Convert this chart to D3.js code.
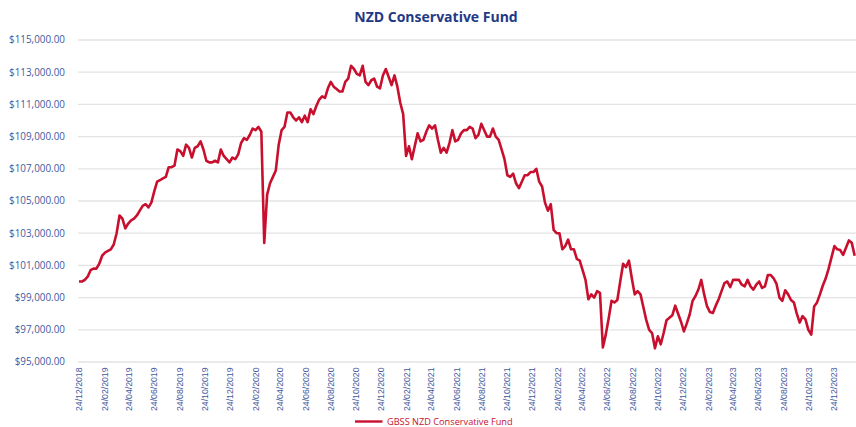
<!DOCTYPE html>
<html>
<head>
<meta charset="utf-8">
<script src="https://cdn.jsdelivr.net/npm/d3@7"></script>
<style>
  html, body { margin: 0; padding: 0; background: #fff; }
  svg { display: block; }
</style>
</head>
<body>
<svg id="chart" width="856" height="427"></svg>
<script>
// ---- data ----
const chartTitle = "NZD Conservative Fund";
const seriesName = "GBSS NZD Conservative Fund";
const startDate = "2018-12-24";      // first weekly observation
const stepDays = 7;                  // weekly unit prices
// weekly fund values (NZD)
const values = [
  100000,100000,100100,100300,100700,100800,100800,101100,101600,101800,
  101900,102000,102300,103000,104100,103900,103300,103600,103800,103900,
  104100,104400,104700,104800,104600,104900,105600,106200,106300,106400,
  106500,107100,107100,107200,108200,108100,107800,108500,108300,107700,
  108300,108400,108700,108200,107500,107400,107400,107500,107400,108200,
  107800,107600,107400,107700,107600,107900,108600,108900,108800,109100,
  109500,109400,109600,109300,102400,105400,106100,106500,106900,108500,
  109400,109600,110500,110500,110200,110000,110200,109900,110300,109900,
  110700,110400,110900,111300,111500,111400,112000,112400,112100,111950,
  111800,111800,112400,112600,113400,113200,112900,112800,113400,112400,
  112200,112500,112600,112100,112000,112800,113200,112700,112200,112800,
  112100,111100,110400,107800,108400,107600,108400,109200,108700,108800,
  109300,109700,109500,109700,108800,108000,108300,108000,108600,109400,
  108700,108800,109200,109400,109400,109600,109500,108900,109100,109800,
  109400,109000,109000,109500,109000,108800,108200,107600,106600,106500,
  106700,106100,105800,106200,106600,106600,106800,106800,107000,106200,
  105900,104900,104400,104800,103200,103000,103000,102000,102200,102600,
  102000,102000,101400,101300,100700,100100,98900,99200,99000,99400,
  99300,95900,96700,97700,98800,98700,98850,100000,101100,100900,
  101300,100200,99200,99400,99200,98400,97600,97000,96800,95850,
  96600,96100,96800,97600,97750,97900,98500,98000,97500,96900,
  97400,97950,98800,99100,99500,100100,99200,98450,98100,98050,
  98500,98900,99400,99900,100000,99650,100100,100100,100100,99800,
  99700,100100,99700,99500,99800,100000,99600,99700,100400,100400,
  100200,99850,99000,98800,99450,99200,98850,98700,98000,97450,
  97850,97650,97000,96700,98450,98700,99200,99750,100200,100800,
  101500,102200,102000,101950,101650,102100,102550,102400,101600
];
const yTicks = [95000,97000,99000,101000,103000,105000,107000,109000,111000,113000,115000];
const xTickStart = "2018-12-24";
const xTickEnd = "2024-02-24";
const xTickEveryMonths = 2;

// ---- build ----
const parse = d3.timeParse("%Y-%m-%d");
const t0 = parse(startDate);
const data = values.map((v, i) => ({ date: d3.timeDay.offset(t0, i * stepDays), value: v }));
const tickDates = [];
for (let d = parse(xTickStart); d <= parse(xTickEnd); d = d3.timeMonth.offset(d, xTickEveryMonths)) tickDates.push(d);

const svg = d3.select("#chart");
const W = 856, H = 427;

const x = d3.scaleTime()
  .domain([parse(xTickStart), parse("2023-12-24")])
  .range([79, 834]);
const y = d3.scaleLinear().domain([95000, 115000]).range([362, 40]);

svg.append("rect").attr("width", W).attr("height", H).attr("fill", "#fff");

// gridlines
svg.append("g").selectAll("line").data(yTicks).join("line")
  .attr("x1", 78).attr("x2", W)
  .attr("y1", d => y(d)).attr("y2", d => y(d))
  .attr("stroke", "#e3e3e3").attr("stroke-width", 1.3);

// y axis labels
const fmt = d3.format(",.2f");
svg.append("g").selectAll("text").data(yTicks).join("text")
  .attr("x", 65).attr("y", d => y(d)).attr("dy", "0.35em")
  .attr("text-anchor", "end")
  .attr("font-family", "'Open Sans', sans-serif")
  .attr("font-size", "9.9px")
  .attr("fill", "#3f5a9e")
  .text(d => "$" + fmt(d));

// x axis labels (rotated)
const fmtDate = d3.timeFormat("%d/%m/%Y");
svg.append("g").selectAll("text").data(tickDates).join("text")
  .attr("transform", d => `translate(${x(d)},367.5) rotate(-90)`)
  .attr("dy", "0.35em")
  .attr("text-anchor", "end")
  .attr("font-family", "'Liberation Sans', Arial, sans-serif")
  .attr("font-size", "8.7px")
  .attr("fill", "#3f5a9e")
  .text(d => fmtDate(d));

// line
const line = d3.line().x(d => x(d.date)).y(d => y(d.value)).curve(d3.curveLinear);
svg.append("path").datum(data)
  .attr("d", line)
  .attr("fill", "none")
  .attr("stroke", "#c8102e")
  .attr("stroke-width", 2.6)
  .attr("stroke-linejoin", "round");

// title
svg.append("text")
  .attr("x", 436).attr("y", 22)
  .attr("text-anchor", "middle")
  .attr("font-family", "'Open Sans', sans-serif")
  .attr("font-weight", "bold")
  .attr("font-size", "14px")
  .attr("fill", "#1f3a85")
  .text(chartTitle);

// legend
svg.append("line")
  .attr("x1", 355).attr("x2", 382.5).attr("y1", 421.5).attr("y2", 421.5)
  .attr("stroke", "#c8102e").attr("stroke-width", 2.4);
svg.append("text")
  .attr("x", 387).attr("y", 421.5).attr("dy", "0.35em")
  .attr("font-family", "'Open Sans', sans-serif")
  .attr("font-size", "9.2px")
  .attr("fill", "#c8102e")
  .text(seriesName);
</script>
</body>
</html>
